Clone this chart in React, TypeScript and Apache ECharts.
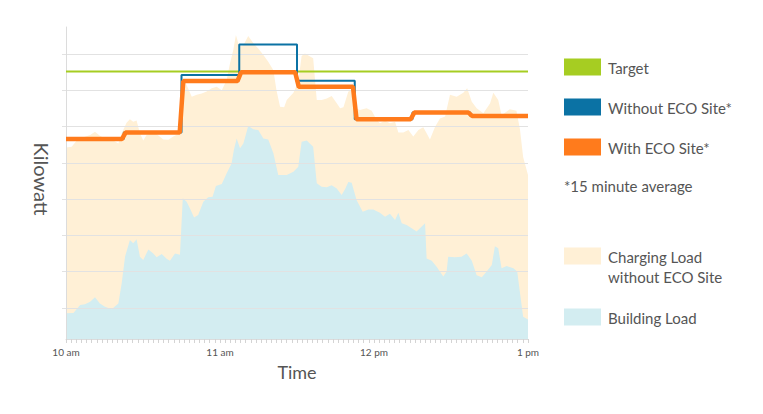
import { useEffect, useRef } from 'react';
import * as echarts from 'echarts';

// time axis is minutes after 10 am, power in kW
const timeLabels = ['10 am', '11 am', '12 pm', '1 pm'];
const segmentMinutes = 22.5;
const targetKw = 73.7;

// averaged peak per segment
const withEcoKw = [55.1, 56.9, 71.1, 73.5, 69.5, 60.6, 62.4, 61.5];
const withoutEcoKw = [55.1, 56.9, 72.8, 81.2, 71.2, 60.6, 62.4, 61.5];

// building + charging load without ECO Site, [minute, kW]
const totalLoad: [number, number][] = [
  [0, 52.8], [2.2, 53], [4.2, 54.7], [6.8, 55.6], [9.4, 56.2], [11.3, 57.1],
  [13.2, 56], [15.8, 55], [18.4, 54.7], [20.4, 53.9], [21.7, 56.7], [23.6, 59.6],
  [24.9, 60.6], [26.2, 59.9], [27.5, 60.2], [28.8, 56.7], [30.1, 54.7], [31.4, 56.2],
  [33.4, 56.7], [35.3, 56.5], [37.9, 55], [39.9, 54.9], [41.8, 55.8], [43.7, 56.5],
  [45.1, 62.2], [46, 71.4], [47, 70], [49, 66.8], [50.9, 67.3], [52.9, 67.7],
  [54.8, 68.2], [56.8, 69.1], [58.7, 69.5], [60.7, 68.6], [62.6, 71.4], [63.9, 76],
  [65.2, 79.7], [66.2, 83.8], [67.5, 80.6], [69.1, 81], [71, 83.5], [73, 81.5],
  [74.9, 80.1], [76.9, 78.3], [78.8, 76.4], [80.8, 74.1], [82, 68.6], [83.4, 64],
  [85, 63.9], [86, 65.9], [88.6, 67.9], [90.5, 70.9], [91.8, 78], [93.1, 78.7],
  [96.3, 77.4], [97.7, 65.9], [99.6, 65.9], [101.6, 66.3], [103.5, 67], [105.5, 65],
  [106.8, 63.6], [108.1, 63.9], [110, 68.2], [111.3, 68.6], [112.6, 63.6], [114.5, 63.1],
  [117.1, 63.6], [119.1, 62.9], [121, 60.4], [122.3, 59.5], [124.3, 60.2], [126.2, 59.5],
  [128.2, 59.9], [129.5, 56.9], [131.4, 56.9], [133.4, 57.6], [135.3, 55.8], [137.3, 57.6],
  [139.2, 58.4], [140.5, 56.7], [141.8, 55], [143.8, 58.5], [145.7, 60.8], [147.7, 61.3],
  [149.6, 67.3], [152.2, 66.8], [154.8, 67.9], [156.3, 69.1], [158.1, 65.4], [160, 63.6],
  [162.6, 62.2], [165.2, 64.9], [166.5, 67.9], [168.4, 65.9], [169.7, 61.7], [172.9, 63.3],
  [175.5, 62.9], [176.9, 57.6], [178.1, 50.2], [180, 45.2],
];

const buildingLoad: [number, number][] = [
  [0, 7.1], [2.9, 7.2], [5.5, 9.4], [7.4, 9.6], [9.4, 10.3], [11.3, 11.5],
  [13.2, 9.8], [15.2, 8.9], [17.8, 8.2], [20.4, 9.8], [21.7, 15.4], [23, 22.7],
  [24.9, 27.3], [26.2, 26.4], [27.5, 27.5], [28.8, 22.7], [30.1, 21.8], [32.1, 24.7],
  [34, 23.6], [35.3, 22.5], [37.3, 23.4], [39.2, 22.1], [40.5, 21.6], [42.5, 23.6],
  [44.4, 23.2], [45.5, 38.8], [47, 37.8], [48.3, 36], [49.9, 33.5], [51.5, 34.2],
  [53.5, 37.8], [55.4, 39.1], [57.1, 39.2], [58.4, 42.2], [60.7, 42.7], [62.6, 45.7],
  [64.5, 48.4], [65.4, 52.1], [66.5, 55.3], [67.8, 52.6], [69.1, 53.9], [71, 58.7],
  [73, 57.8], [74.9, 57.6], [76.9, 55.3], [78.8, 55], [80.8, 51.2], [82.7, 45.2],
  [86, 45.2], [88.6, 46.1], [90.5, 47.5], [91.8, 54.4], [93.8, 54.7], [96.3, 53],
  [97.7, 42.9], [99.6, 42], [101.6, 41.8], [103.5, 42.4], [105.5, 41.5], [107.4, 39.7],
  [108.7, 41.3], [110, 43.3], [111.3, 43.1], [113.2, 38.3], [115.6, 35.1], [117.8, 35.7],
  [119.7, 35.7], [122.3, 34.8], [124.3, 33.7], [126.2, 34.5], [128.2, 32.8], [129.5, 34.8],
  [130.8, 31.9], [132.7, 31.4], [134.7, 30.5], [136.6, 29.6], [138.6, 31], [139.9, 31.9],
  [140.5, 22.2], [142.5, 21.6], [144.4, 19.9], [147, 17.2], [148.3, 18.6], [148.9, 22.7],
  [151.5, 22.5], [154.1, 22.7], [156.1, 23.6], [158.1, 21.6], [160, 17.6], [162, 17],
  [163.9, 18.6], [165.9, 20.4], [167.1, 25.6], [168.4, 25], [169.7, 19.5], [171.7, 20.1],
  [174.3, 19.5], [175.8, 18.6], [176.9, 12.6], [178.1, 6.1], [180, 5.4],
];

const FONT = 'Lato, "Open Sans", sans-serif';
const TEXT = '#555';

const colors = {
  target: '#a6cd22',
  without: '#0b72a4',
  withEco: '#ff7b1c',
  charging: '#fff0d6',
  building: '#d3edf1',
};

// slanted steps for the averaged line, vertical ones for the other
function stepPoints(levels: number[], ramp: number) {
  const pts: [number, number][] = [];
  levels.forEach((v, i) => {
    const start = i * segmentMinutes + (i > 0 ? ramp : 0);
    const end = (i + 1) * segmentMinutes - (i < levels.length - 1 ? ramp : 0);
    pts.push([start, v], [end, v]);
  });
  return pts;
}

const legendItems = [
  { label: 'Target', color: colors.target, y: 67 },
  { label: 'Without ECO Site*', color: colors.without, y: 107 },
  { label: 'With ECO Site*', color: colors.withEco, y: 147 },
  { label: 'Charging Load\nwithout ECO Site', color: colors.charging, y: 256, textY: 267 },
  { label: 'Building Load', color: colors.building, y: 317 },
];

export default function App() {
  const chartRef = useRef<HTMLDivElement>(null);

  useEffect(() => {
    if (!chartRef.current) return;
    const chart = echarts.init(chartRef.current, undefined, { renderer: 'svg' });

    const graphic: any[] = [];
    legendItems.forEach(item => {
      graphic.push({
        type: 'rect',
        shape: { x: 564, y: item.y - 8.5, width: 37, height: 17 },
        style: { fill: item.color },
      });
      graphic.push({
        type: 'text',
        x: 608,
        y: item.textY ?? item.y + 1,
        style: {
          text: item.label,
          fill: TEXT,
          font: `15px ${FONT}`,
          verticalAlign: 'middle',
          lineHeight: 19.5,
        },
      });
    });
    graphic.push({
      type: 'text',
      x: 564,
      y: 186,
      style: {
        text: '*15 minute average',
        fill: TEXT,
        font: `15px ${FONT}`,
        verticalAlign: 'middle',
      },
    });

    chart.setOption({
      animation: false,
      grid: [
        { left: 66, right: 235, top: 27, bottom: 75, containLabel: false },
        { left: 62, right: 235, top: 54, bottom: 106, containLabel: false },
      ],
      xAxis: [
        {
          type: 'value',
          min: 0,
          max: 180,
          interval: 60,
          z: 2,
          axisLine: { lineStyle: { color: '#dcdcdc', width: 1 } },
          axisTick: { show: true, length: 4, lineStyle: { color: '#d4d4d4' } },
          minorTick: { show: true, splitNumber: 30, length: 4, lineStyle: { color: '#d4d4d4' } },
          splitLine: { show: false },
          axisLabel: {
            color: TEXT,
            fontSize: 10,
            fontFamily: FONT,
            margin: 8,
            formatter: (v: number) => timeLabels[Math.round(v / 60)] ?? '',
          },
          name: 'Time',
          nameLocation: 'middle',
          nameGap: 24,
          nameTextStyle: { color: TEXT, fontSize: 18, fontFamily: FONT },
        },
        { type: 'value', gridIndex: 1, min: 0, max: 1, show: false },
      ],
      yAxis: [
        {
          type: 'value',
          min: 0,
          max: 86,
          z: 2,
          axisLine: { show: true, lineStyle: { color: '#dcdcdc', width: 1 } },
          axisTick: { show: false },
          axisLabel: { show: false },
          splitLine: { show: false },
          name: 'Kilowatt',
          nameLocation: 'middle',
          nameRotate: -90,
          nameGap: 14,
          nameTextStyle: { color: TEXT, fontSize: 20, fontFamily: FONT, padding: [0, 8, 0, 0] },
        },
        {
          type: 'value',
          gridIndex: 1,
          min: 1,
          max: 8,
          interval: 1,
          z: 2,
          axisLine: { show: false },
          axisTick: { show: false },
          axisLabel: { show: false },
          splitLine: { show: true, lineStyle: { color: '#e2e2e2', width: 1 } },
        },
      ],
      series: [
        {
          name: 'Charging Load without ECO Site',
          type: 'line',
          data: totalLoad,
          symbol: 'none',
          z: 1,
          lineStyle: { width: 0 },
          areaStyle: { color: colors.charging, opacity: 1 },
        },
        {
          name: 'Building Load',
          type: 'line',
          data: buildingLoad,
          symbol: 'none',
          z: 1,
          lineStyle: { width: 0 },
          areaStyle: { color: colors.building, opacity: 1 },
        },
        {
          name: 'Target',
          type: 'line',
          data: [[0, targetKw], [180, targetKw]],
          symbol: 'none',
          z: 3,
          lineStyle: { color: colors.target, width: 2 },
        },
        {
          name: 'Without ECO Site*',
          type: 'line',
          data: stepPoints(withoutEcoKw, 0),
          symbol: 'none',
          z: 3,
          lineStyle: { color: colors.without, width: 2 },
        },
        {
          name: 'With ECO Site*',
          type: 'line',
          data: stepPoints(withEcoKw, 0.7),
          symbol: 'none',
          z: 4,
          lineStyle: { color: colors.withEco, width: 4.5 },
        },
      ],
      graphic,
    });

    return () => {
      chart.dispose();
    };
  }, []);

  return (
    <div
      ref={chartRef}
      style={{ position: 'fixed', left: 0, top: 0, width: 763, height: 414, background: '#fff' }}
    />
  );
}
